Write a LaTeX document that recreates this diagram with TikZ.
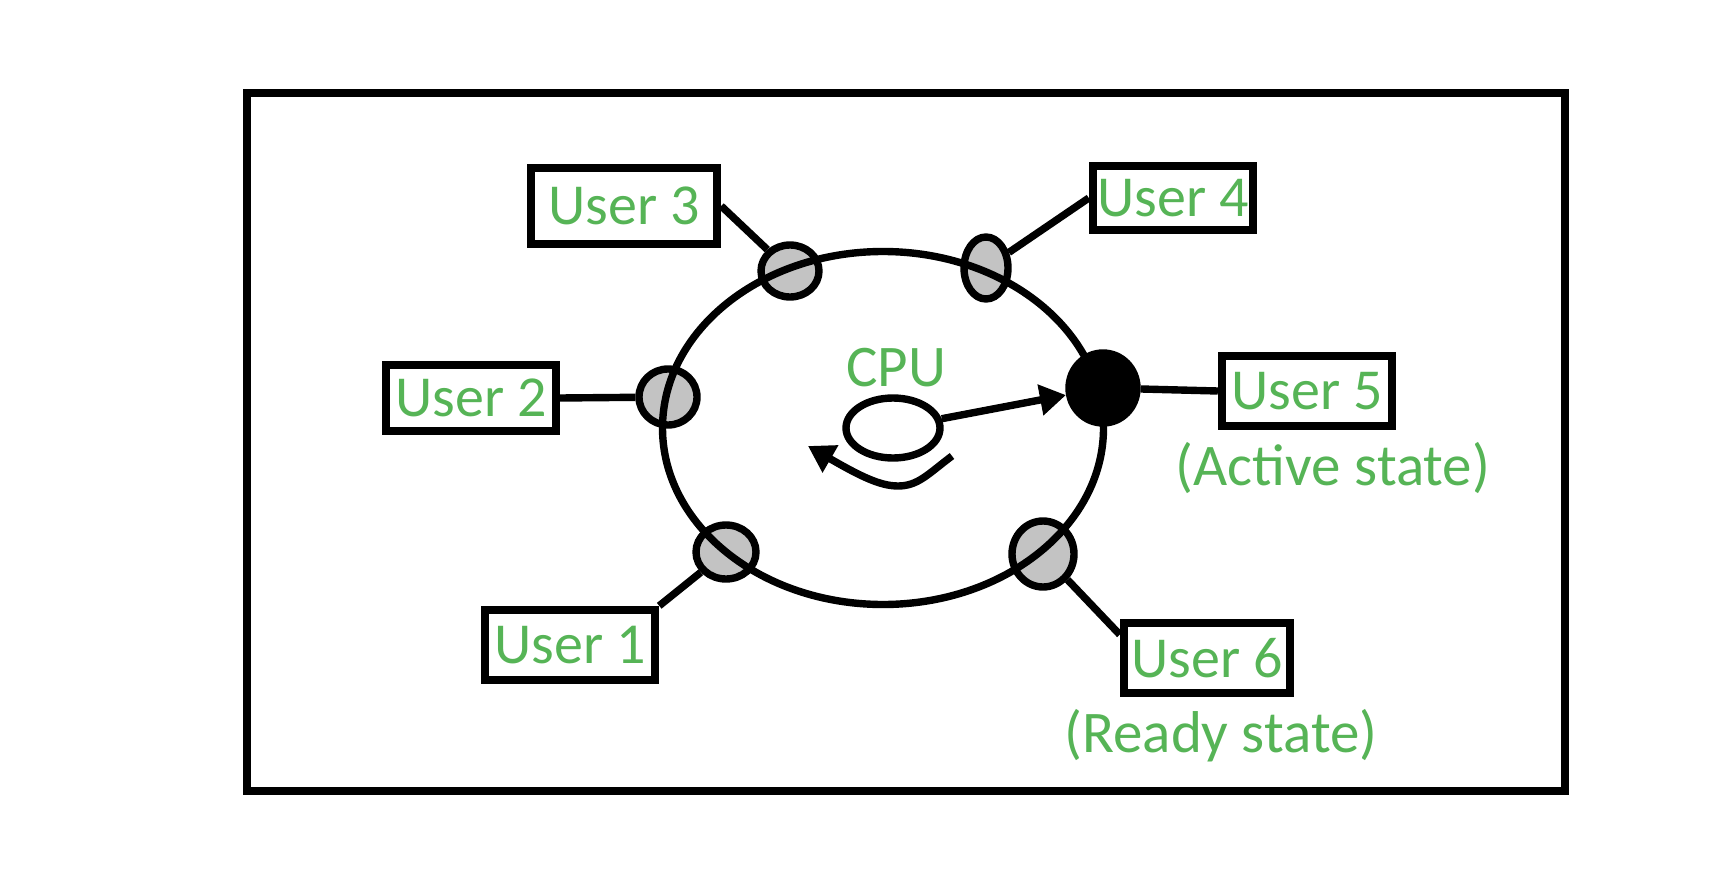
\documentclass[tikz,border=0pt]{standalone}
\usepackage{fontspec}
\setmainfont{Carlito}
\usetikzlibrary{shapes.geometric,arrows.meta}
\definecolor{usergreen}{RGB}{86,180,86}
\definecolor{padgray}{RGB}{195,195,195}
\tikzset{
  userbox/.style={draw, line width=4.2pt, minimum width=85pt, minimum height=35pt, inner sep=1pt, text=usergreen, font=\fontsize{29}{34}\selectfont},
  tag/.style={text=usergreen, inner sep=0pt, font=\fontsize{29.5}{34}\selectfont},
  pad/.style={draw, ellipse, line width=3.7pt, fill=padgray, inner sep=0pt},
  link/.style={line width=3.7pt},
  spin/.style={line width=3.7pt, -{Triangle[length=13pt,width=15pt]}}
}
\begin{document}
\begin{tikzpicture}[x=0.5pt,y=-0.5pt]
  \useasboundingbox (0,0) rectangle (1724,888);
  \draw[line width=4.3pt] (247,93) rectangle (1565,791);

  % users round the ring
  \node[userbox, minimum width=93pt, minimum height=38pt] (u3) at (624,206) {User 3};
  \node[userbox, minimum width=80pt, minimum height=32pt] (u4) at (1173,198) {User 4};
  \node[userbox, minimum height=33pt] (u2) at (471,398) {User 2};
  \node[userbox] (u5) at (1307,391) {User 5};
  \node[userbox] (u1) at (570,645) {User 1};
  \node[userbox, minimum width=83pt] (u6) at (1207,658) {User 6};

  \node[tag, anchor=base] (active) at (1333,485) {(Active state)};
  \node[tag, anchor=base] (ready) at (1221,752) {(Ready state)};

  \node[pad, minimum width=29pt, minimum height=26pt] (p3) at (790,271) {};
  \node[pad, minimum width=22pt, minimum height=31pt] (p4) at (986,268) {};
  \node[pad, minimum width=29pt, minimum height=28pt] (p2) at (668,397) {};
  \node[pad, minimum width=30pt, minimum height=27pt] (p1) at (726,552) {};
  \node[pad, minimum width=31pt, minimum height=33pt] (p6) at (1043,554) {};
  \node[pad, fill=black, minimum width=34pt, minimum height=35pt] (p5) at (1103,388) {};

  \draw[link] (u3.east) -- (p3);
  \draw[link] (u4.west) -- (p4);
  \draw[link] (u2.east) -- (p2);
  \draw[link] (u5.west) -- (p5);
  \draw[link] (u1.north east) -- (p1);
  \draw[link] (u6.165) -- (p6);

  % the ring goes over the pads
  \draw[link] (883,428) ellipse [x radius=220.5, y radius=176.5];

  \node[tag] (cpu) at (896,368) {CPU};
  \node[draw, ellipse, line width=3.7pt, minimum width=47pt, minimum height=30pt] (cpuloop) at (893,428) {};
  \draw[spin] (cpuloop) -- (p5);

  \coordinate (spinstart) at (952,456);
  \coordinate (spinend) at (808,446);
  \draw[spin] (spinstart) .. controls (928,474) and (918,486) .. (898,486) .. controls (880,486) and (860,476) .. (spinend);
\end{tikzpicture}
\end{document}
